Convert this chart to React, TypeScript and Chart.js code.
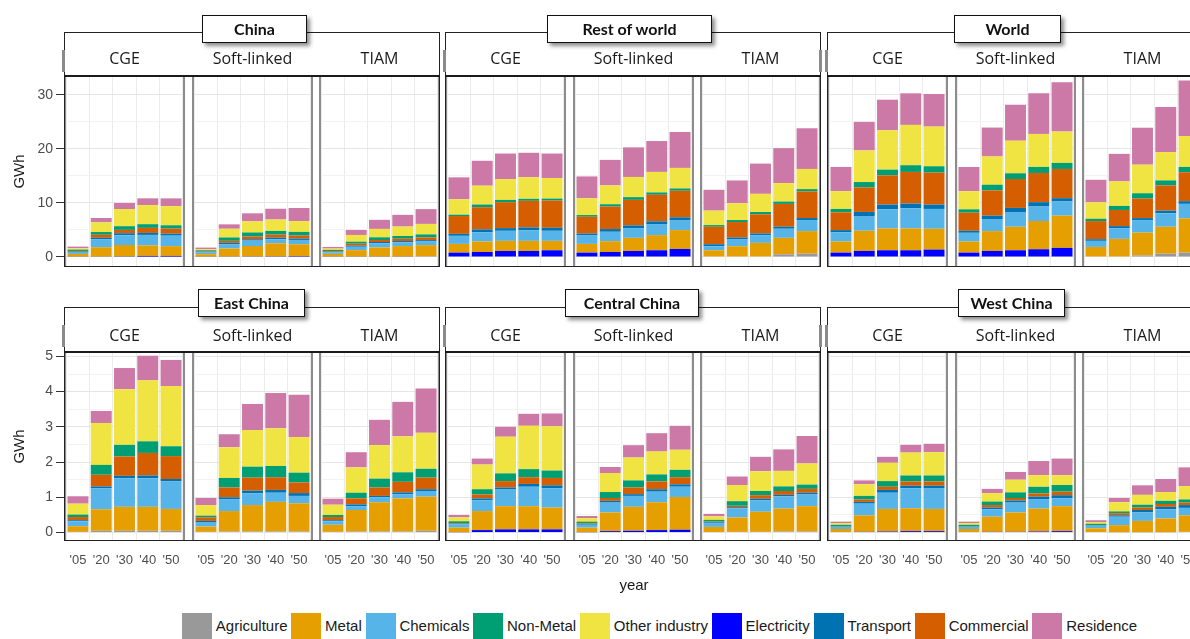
import React, { useEffect, useRef } from "react";
import { Chart, registerables } from "chart.js";

Chart.register(...registerables);
Chart.defaults.font.family = '"Liberation Sans", Arial, sans-serif';

// ---------- categories / labels ----------
const YEARS = ["'05", "'20", "'30", "'40", "'50"];
const MODELS = ["CGE", "Soft-linked", "TIAM"];
// stacking order, bottom -> top
const SECTORS = ["Agriculture", "Electricity", "Metal", "Chemicals", "Transport", "Commercial", "Non-Metal", "Other industry", "Residence"];
const COLORS = ["#999999", "#0000FF", "#E69F00", "#56B4E9", "#0072B2", "#D55E00", "#009E73", "#F0E442", "#CC79A7"];
const LEGEND_ORDER = ["Agriculture", "Metal", "Chemicals", "Non-Metal", "Other industry", "Electricity", "Transport", "Commercial", "Residence"];
const TOP_REGIONS = ["China", "Rest of world", "World"];
const BOTTOM_REGIONS = ["East China", "Central China", "West China"];
const Y_MAJOR_TOP = [0, 10, 20, 30];
const Y_MINOR_TOP = [5, 15, 25];
const Y_MAJOR_BOTTOM = [0, 1, 2, 3, 4, 5];
const Y_MINOR_BOTTOM = [0.5, 1.5, 2.5, 3.5, 4.5];

// ---------- values (GWh): rows follow SECTORS, columns follow YEARS ----------
const chinaCGE = [
  [0.05, 0.05, 0.05, 0.05, 0.05],
  [0.02, 0.02, 0.05, 0.15, 0.15],
  [0.5, 1.74, 2.12, 1.95, 1.81],
  [0.35, 1.49, 1.8, 1.93, 1.93],
  [0.05, 0.25, 0.37, 0.37, 0.37],
  [0.15, 0.56, 0.62, 0.93, 0.93],
  [0.25, 0.5, 0.68, 0.68, 0.62],
  [0.25, 1.8, 3.17, 3.54, 3.54],
  [0.3, 0.8, 1.12, 1.24, 1.43],
];
const chinaSoft = [
  [0.05, 0.05, 0.05, 0.05, 0.05],
  [0.02, 0.02, 0.03, 0.05, 0.1],
  [0.45, 1.5, 1.95, 2.43, 2.2],
  [0.3, 0.75, 1.0, 0.75, 0.8],
  [0.05, 0.3, 0.25, 0.3, 0.25],
  [0.12, 0.37, 0.5, 0.56, 0.56],
  [0.25, 0.62, 0.75, 0.68, 0.68],
  [0.2, 1.61, 2.05, 2.11, 1.99],
  [0.3, 0.81, 1.49, 1.99, 2.42],
];
const chinaTIAM = [
  [0.05, 0.05, 0.05, 0.05, 0.1],
  [0.02, 0.02, 0.02, 0.02, 0.02],
  [0.5, 1.2, 1.7, 1.95, 2.07],
  [0.3, 0.62, 0.75, 0.68, 0.68],
  [0.05, 0.2, 0.25, 0.25, 0.25],
  [0.15, 0.37, 0.37, 0.43, 0.5],
  [0.25, 0.37, 0.5, 0.5, 0.56],
  [0.24, 1.24, 1.55, 1.74, 1.93],
  [0.3, 0.93, 1.68, 2.17, 2.73],
];
const rowCGE = [
  [0, 0, 0, 0, 0],
  [0.81, 0.93, 1.12, 1.12, 1.24],
  [1.61, 1.93, 1.86, 1.86, 1.74],
  [1.49, 1.68, 1.86, 1.93, 1.86],
  [0.37, 0.56, 0.5, 0.56, 0.56],
  [3.29, 4.1, 4.78, 4.91, 5.03],
  [0.25, 0.5, 0.43, 0.37, 0.37],
  [2.86, 3.48, 3.85, 3.98, 3.79],
  [4.04, 4.6, 4.72, 4.53, 4.53],
];
const rowSoft = [
  [0, 0, 0, 0, 0],
  [0.81, 0.93, 1.12, 1.24, 1.49],
  [1.61, 1.99, 2.42, 2.8, 3.48],
  [1.55, 1.74, 1.8, 2.05, 1.86],
  [0.37, 0.5, 0.5, 0.5, 0.5],
  [3.1, 4.16, 4.72, 4.91, 4.91],
  [0.31, 0.43, 0.5, 0.43, 0.43],
  [3.1, 3.48, 3.73, 3.79, 3.79],
  [4.04, 4.72, 5.47, 5.71, 6.65],
];
const rowTIAM = [
  [0, 0, 0.1, 0.5, 0.62],
  [0, 0, 0, 0, 0],
  [1.24, 1.99, 2.51, 3.04, 4.16],
  [0.75, 1.24, 1.43, 1.68, 2.05],
  [0.37, 0.37, 0.31, 0.37, 0.37],
  [3.23, 2.86, 3.54, 4.22, 4.91],
  [0.31, 0.37, 0.43, 0.43, 0.43],
  [2.67, 3.1, 3.35, 3.42, 3.73],
  [3.85, 4.22, 5.59, 6.46, 7.52],
];
const worldCGE = [
  [0, 0, 0, 0, 0],
  [0.81, 1.12, 1.24, 1.24, 1.37],
  [2.05, 3.73, 4.04, 4.04, 3.85],
  [1.68, 2.73, 3.54, 3.73, 3.66],
  [0.43, 0.75, 0.87, 0.87, 0.81],
  [3.29, 4.53, 5.4, 5.84, 5.9],
  [0.62, 0.99, 1.06, 1.24, 1.18],
  [3.29, 5.84, 7.27, 7.45, 7.33],
  [4.47, 5.28, 5.65, 5.84, 6.02],
];
const worldSoft = [
  [0, 0, 0, 0, 0],
  [0.81, 1.12, 1.24, 1.43, 1.68],
  [2.05, 3.66, 4.35, 5.22, 5.96],
  [1.61, 2.24, 2.73, 2.67, 2.61],
  [0.37, 0.62, 0.75, 0.81, 0.62],
  [3.35, 4.66, 5.34, 5.4, 5.4],
  [0.62, 1.06, 1.06, 1.12, 1.12],
  [3.35, 5.22, 6.02, 6.09, 5.78],
  [4.47, 5.34, 6.65, 7.52, 9.13],
];
const worldTIAM = [
  [0, 0, 0.3, 0.62, 0.81],
  [0, 0, 0, 0, 0],
  [1.86, 3.35, 4.22, 4.97, 6.34],
  [1.12, 1.93, 2.3, 2.48, 2.67],
  [0.31, 0.43, 0.37, 0.5, 0.5],
  [3.35, 2.98, 3.6, 4.66, 5.34],
  [0.43, 0.75, 0.99, 0.93, 0.99],
  [3.04, 4.53, 5.28, 5.22, 5.71],
  [4.16, 5.09, 6.83, 8.32, 10.25],
];
const eastCGE = [
  [0.02, 0.05, 0.05, 0.05, 0.05],
  [0, 0, 0, 0, 0],
  [0.16, 0.61, 0.68, 0.68, 0.62],
  [0.14, 0.6, 0.81, 0.81, 0.78],
  [0.03, 0.05, 0.07, 0.08, 0.07],
  [0.09, 0.33, 0.55, 0.64, 0.65],
  [0.07, 0.28, 0.33, 0.33, 0.28],
  [0.31, 1.19, 1.58, 1.73, 1.71],
  [0.21, 0.34, 0.6, 0.7, 0.74],
];
const eastSoft = [
  [0.02, 0.03, 0.03, 0.03, 0.03],
  [0, 0, 0, 0, 0],
  [0.15, 0.58, 0.75, 0.84, 0.8],
  [0.13, 0.34, 0.33, 0.26, 0.21],
  [0.03, 0.05, 0.08, 0.08, 0.08],
  [0.1, 0.28, 0.37, 0.36, 0.3],
  [0.05, 0.27, 0.31, 0.32, 0.28],
  [0.3, 0.87, 1.04, 1.07, 1.01],
  [0.2, 0.37, 0.74, 1.0, 1.2],
];
const eastTIAM = [
  [0.02, 0.03, 0.03, 0.03, 0.05],
  [0, 0, 0, 0, 0],
  [0.2, 0.61, 0.83, 0.94, 0.97],
  [0.1, 0.11, 0.14, 0.12, 0.16],
  [0.03, 0.05, 0.04, 0.05, 0.05],
  [0.09, 0.17, 0.24, 0.3, 0.33],
  [0.06, 0.16, 0.25, 0.27, 0.25],
  [0.29, 0.72, 0.95, 1.02, 1.02],
  [0.17, 0.43, 0.72, 0.98, 1.26],
];
const centralCGE = [
  [0, 0, 0, 0, 0],
  [0.01, 0.07, 0.09, 0.09, 0.09],
  [0.13, 0.54, 0.66, 0.66, 0.62],
  [0.09, 0.31, 0.47, 0.55, 0.55],
  [0.02, 0.05, 0.06, 0.08, 0.08],
  [0.02, 0.11, 0.18, 0.19, 0.21],
  [0.05, 0.15, 0.22, 0.23, 0.21],
  [0.11, 0.7, 1.04, 1.23, 1.26],
  [0.07, 0.17, 0.28, 0.34, 0.36],
];
const centralSoft = [
  [0, 0, 0, 0, 0],
  [0.01, 0.04, 0.05, 0.07, 0.08],
  [0.13, 0.53, 0.68, 0.79, 0.93],
  [0.08, 0.28, 0.31, 0.3, 0.29],
  [0.02, 0.05, 0.05, 0.07, 0.07],
  [0.02, 0.08, 0.19, 0.22, 0.2],
  [0.05, 0.17, 0.2, 0.2, 0.21],
  [0.1, 0.54, 0.65, 0.65, 0.57],
  [0.06, 0.17, 0.35, 0.52, 0.68],
];
const centralTIAM = [
  [0, 0.02, 0.02, 0.03, 0.03],
  [0, 0, 0, 0, 0],
  [0.16, 0.41, 0.57, 0.65, 0.72],
  [0.11, 0.26, 0.33, 0.35, 0.33],
  [0.02, 0.03, 0.04, 0.04, 0.05],
  [0.02, 0.04, 0.1, 0.11, 0.11],
  [0.05, 0.13, 0.12, 0.13, 0.12],
  [0.1, 0.46, 0.56, 0.44, 0.6],
  [0.07, 0.24, 0.41, 0.61, 0.78],
];
const westCGE = [
  [0, 0, 0, 0, 0],
  [0, 0.02, 0.03, 0.04, 0.04],
  [0.1, 0.47, 0.64, 0.65, 0.63],
  [0.06, 0.33, 0.46, 0.57, 0.58],
  [0.01, 0.05, 0.08, 0.07, 0.08],
  [0.01, 0.07, 0.09, 0.12, 0.12],
  [0.04, 0.1, 0.16, 0.17, 0.17],
  [0.05, 0.33, 0.52, 0.65, 0.66],
  [0.04, 0.11, 0.17, 0.22, 0.24],
];
const westSoft = [
  [0, 0, 0, 0, 0],
  [0, 0.02, 0.02, 0.03, 0.04],
  [0.1, 0.43, 0.55, 0.65, 0.71],
  [0.06, 0.21, 0.28, 0.27, 0.22],
  [0.01, 0.05, 0.06, 0.07, 0.09],
  [0.01, 0.07, 0.07, 0.09, 0.1],
  [0.04, 0.1, 0.16, 0.19, 0.19],
  [0.05, 0.24, 0.36, 0.33, 0.28],
  [0.04, 0.12, 0.22, 0.4, 0.47],
];
const westTIAM = [
  [0, 0.01, 0.01, 0.01, 0.02],
  [0, 0, 0, 0, 0],
  [0.12, 0.2, 0.32, 0.39, 0.47],
  [0.07, 0.24, 0.24, 0.26, 0.21],
  [0.01, 0.04, 0.07, 0.07, 0.08],
  [0.01, 0.06, 0.07, 0.08, 0.07],
  [0.04, 0.05, 0.08, 0.09, 0.09],
  [0.05, 0.26, 0.28, 0.25, 0.38],
  [0.05, 0.12, 0.27, 0.37, 0.53],
];

const TOP_DATA = [
  [chinaCGE, chinaSoft, chinaTIAM],
  [rowCGE, rowSoft, rowTIAM],
  [worldCGE, worldSoft, worldTIAM],
];
const BOTTOM_DATA = [
  [eastCGE, eastSoft, eastTIAM],
  [centralCGE, centralSoft, centralTIAM],
  [westCGE, westSoft, westTIAM],
];

// ---------- layout ----------
const GROUP_LEFT = [64, 445, 827];
const PANEL_PITCH = 127.5;
const PANEL_W = 121;
const GROUP_W = 2 * PANEL_PITCH + PANEL_W;
const Y_AXIS_W = 64;
const LABEL_ROOM = 10;

type PanelProps = {
  values: number[][];
  left: number;
  top: number;
  width: number;
  height: number;
  padTop: number;
  yAxisW: number;
  xAxisH: number;
  yMin: number;
  yMax: number;
  majors: number[];
  minors: number[];
};

function Panel(p: PanelProps) {
  const ref = useRef<HTMLCanvasElement>(null);
  useEffect(() => {
    const showY = p.yAxisW > 0;
    const showX = p.xAxisH > 0;
    const yTicks = [...p.majors, ...p.minors].sort((a, b) => a - b);
    const isMajor = (v: number) => p.majors.some((m) => Math.abs(m - v) < 1e-9);
    const chart = new Chart(ref.current as HTMLCanvasElement, {
      type: "bar",
      data: {
        datasets: SECTORS.map((s, i) => ({
          label: s,
          data: p.values[i].map((v, j) => ({ x: j, y: v })),
          backgroundColor: COLORS[i],
          borderWidth: 0,
          barPercentage: 0.9,
          categoryPercentage: 1,
        })),
      } as any,
      options: {
        animation: false,
        responsive: false,
        maintainAspectRatio: false,
        events: [],
        layout: { padding: { top: p.padTop, left: 0, right: 0, bottom: 0 }, autoPadding: false },
        plugins: { legend: { display: false }, tooltip: { enabled: false } },
        scales: {
          x: {
            type: "linear",
            stacked: true,
            min: -0.6,
            max: 4.6,
            offset: false,
            afterBuildTicks: (s: any) => {
              s.ticks = YEARS.map((_, i) => ({ value: i }));
            },
            ticks: {
              display: showX,
              autoSkip: false,
              maxRotation: 0,
              padding: 12,
              color: "#4d4d4d",
              font: { size: 13 },
              callback: (_v: any, i: number) => YEARS[i],
            },
            grid: { color: "#ebebeb", lineWidth: 1, drawTicks: false },
            border: { display: false },
            afterFit: (s: any) => {
              s.height = p.xAxisH;
              s.paddingLeft = 0;
              s.paddingRight = 0;
            },
          },
          y: {
            type: "linear",
            stacked: true,
            min: p.yMin,
            max: p.yMax,
            afterBuildTicks: (s: any) => {
              s.ticks = yTicks.map((v) => ({ value: v }));
            },
            ticks: {
              display: showY,
              autoSkip: false,
              padding: 3,
              color: "#4d4d4d",
              font: { size: 14 },
              callback: (v: any) => (isMajor(Number(v)) ? String(v) : ""),
            },
            grid: {
              color: (c: any) => (isMajor(c.tick.value) ? "#e6e6e6" : "#f3f3f3"),
              lineWidth: 1,
              drawTicks: showY,
              tickLength: 8,
              tickColor: (c: any) => (isMajor(c.tick.value) ? "#333333" : "rgba(0,0,0,0)"),
            },
            border: { display: false },
            title: {
              display: showY,
              text: "GWh",
              color: "#1a1a1a",
              font: { size: 15 },
              padding: { top: 11, bottom: 0 },
            },
            afterFit: (s: any) => {
              s.width = p.yAxisW;
              s.paddingTop = 0;
              s.paddingBottom = 0;
            },
          },
        },
      } as any,
    });
    return () => chart.destroy();
  }, []);
  return (
    <canvas
      ref={ref}
      width={p.width}
      height={p.height}
      style={{ position: "absolute", left: p.left, top: p.top, width: p.width, height: p.height, display: "block" }}
    />
  );
}

type RowCfg = {
  regions: string[];
  data: number[][][][];
  panelTop: number;
  panelH: number;
  boxTop: number;
  stripTextY: number;
  titleTop: number;
  titleBoxes: number[][];
  yMin: number;
  yMax: number;
  majors: number[];
  minors: number[];
  xAxisH: number;
  artTop: number;
};

const ROWS: RowCfg[] = [
  {
    regions: TOP_REGIONS,
    data: TOP_DATA,
    panelTop: 76,
    panelH: 191,
    boxTop: 32,
    stripTextY: 58,
    titleTop: 15,
    titleBoxes: [[202, 105], [547, 165], [954, 107]],
    yMin: -1.85,
    yMax: 33.45,
    majors: Y_MAJOR_TOP,
    minors: Y_MINOR_TOP,
    xAxisH: 0,
    artTop: 50,
  },
  {
    regions: BOTTOM_REGIONS,
    data: BOTTOM_DATA,
    panelTop: 352,
    panelH: 189,
    boxTop: 307,
    stripTextY: 335,
    titleTop: 289,
    titleBoxes: [[198, 107], [565, 134], [958, 107]],
    yMin: -0.24,
    yMax: 5.125,
    majors: Y_MAJOR_BOTTOM,
    minors: Y_MINOR_BOTTOM,
    xAxisH: 45,
    artTop: 325,
  },
];

const ART_X = [62, 443, 819, 825];

export default function App() {
  const els: React.ReactNode[] = [];
  ROWS.forEach((r, ri) => {
    r.regions.forEach((region, g) => {
      const gx = GROUP_LEFT[g];
      MODELS.forEach((model, m) => {
        const pl = Math.round(gx + m * PANEL_PITCH);
        const leftmost = g === 0 && m === 0;
        const yW = leftmost ? Y_AXIS_W : 0;
        const padTop = leftmost ? LABEL_ROOM : 0;
        els.push(
          <Panel
            key={`p-${ri}-${g}-${m}`}
            values={r.data[g][m]}
            left={pl - yW}
            top={r.panelTop - padTop}
            width={PANEL_W + yW}
            height={r.panelH + r.xAxisH + padTop}
            padTop={padTop}
            yAxisW={yW}
            xAxisH={r.xAxisH}
            yMin={r.yMin}
            yMax={r.yMax}
            majors={r.majors}
            minors={r.minors}
          />
        );
        els.push(
          <div
            key={`b-${ri}-${g}-${m}`}
            style={{
              position: "absolute",
              left: pl,
              top: r.panelTop,
              width: PANEL_W,
              height: r.panelH,
              boxSizing: "border-box",
              borderLeft: "2px solid #8c8c8c",
              borderRight: "2px solid #8c8c8c",
              borderBottom: "1px solid #333",
            }}
          />
        );
        els.push(
          <div
            key={`s-${ri}-${g}-${m}`}
            style={{
              position: "absolute",
              left: pl,
              width: PANEL_W,
              top: r.stripTextY - 11,
              height: 22,
              lineHeight: "22px",
              textAlign: "center",
              fontFamily: '"Open Sans", sans-serif',
              fontSize: 16,
              color: "#1a1a1a",
              whiteSpace: "nowrap",
            }}
          >
            {model}
          </div>
        );
      });
      els.push(
        <div
          key={`o-${ri}-${g}`}
          style={{
            position: "absolute",
            left: gx,
            top: r.boxTop,
            width: GROUP_W,
            height: r.panelTop + r.panelH - r.boxTop,
            boxSizing: "border-box",
            border: "1px solid #222",
          }}
        />
      );
      els.push(
        <div
          key={`l-${ri}-${g}`}
          style={{ position: "absolute", left: gx, top: r.panelTop - 1, width: GROUP_W, height: 2, background: "#1a1a1a" }}
        />
      );
      const [tl, tw] = r.titleBoxes[g];
      els.push(
        <div
          key={`t-${ri}-${g}`}
          style={{
            position: "absolute",
            left: tl,
            top: r.titleTop,
            width: tw,
            height: 28,
            boxSizing: "border-box",
            border: "1px solid #111",
            background: "#fff",
            boxShadow: "3px 3px 4px rgba(0,0,0,0.45)",
            textAlign: "center",
            lineHeight: "26px",
            fontFamily: "Lato, sans-serif",
            fontWeight: 700,
            fontSize: 16,
            color: "#111",
            whiteSpace: "nowrap",
          }}
        >
          {region}
        </div>
      );
    });
    ART_X.forEach((ax, k) => {
      els.push(
        <div
          key={`a-${ri}-${k}`}
          style={{ position: "absolute", left: ax, top: r.artTop, width: 3, height: 22, background: "#8a8a8a" }}
        />
      );
    });
  });

  return (
    <div
      style={{
        position: "absolute",
        left: 0,
        top: 0,
        width: 1190,
        height: 639,
        overflow: "hidden",
        background: "#fff",
      }}
    >
      {els}
      <div
        style={{
          position: "absolute",
          left: 634,
          top: 576,
          transform: "translateX(-50%)",
          fontFamily: '"Liberation Sans", Arial, sans-serif',
          fontSize: 15,
          color: "#1a1a1a",
        }}
      >
        year
      </div>
      <div
        style={{
          position: "absolute",
          left: 182,
          top: 613,
          display: "flex",
          alignItems: "center",
          fontFamily: '"Liberation Sans", Arial, sans-serif',
          fontSize: 15,
          color: "#1a1a1a",
          whiteSpace: "nowrap",
        }}
      >
        {LEGEND_ORDER.map((name) => (
          <div key={name} style={{ display: "flex", alignItems: "center", marginRight: 3.8 }}>
            <div style={{ width: 30, height: 26, background: COLORS[SECTORS.indexOf(name)], marginRight: 3.8 }} />
            <span style={{ lineHeight: "26px" }}>{name}</span>
          </div>
        ))}
      </div>
    </div>
  );
}
